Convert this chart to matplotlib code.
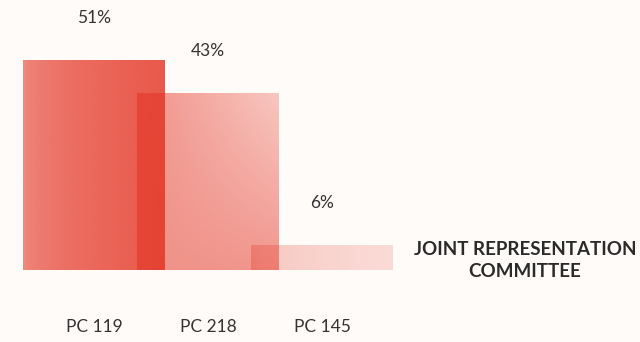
import numpy as np
import matplotlib.pyplot as plt
from matplotlib.colors import to_rgb

categories = ['PC 119', 'PC 218', 'PC 145']
values = [51, 43, 6]
value_labels = ['51%', '43%', '6%']
side_label = 'JOINT REPRESENTATION\nCOMMITTEE'

plt.rcParams['font.family'] = ['Lato', 'DejaVu Sans']

fig = plt.figure(figsize=(6.4, 3.42), dpi=100)
fig.patch.set_facecolor('#fffbf9')
ax = fig.add_axes([0, 0, 1, 1])
ax.set_facecolor('none')
ax.axis('off')

x = np.arange(len(categories))
bars = ax.bar(x, values, width=1.245, color='none', linewidth=0)

# same red for all bars, alpha ramps give the gradient and darker overlaps
base = np.array(to_rgb('#e3301f'))
ramps = [(0.55, 0.80, 0.0), (0.53, 0.50, 0.24), (0.30, 0.16, 0.0)]

u, v = np.meshgrid(np.linspace(0, 1, 80), np.linspace(0, 1, 80))
for bar, (a_left, a_right, fade) in zip(bars, ramps):
    alpha = a_left + (a_right - a_left) * np.sqrt(u) - fade * u * (1 - v)
    img = np.zeros((80, 80, 4))
    img[..., :3] = base
    img[..., 3] = np.clip(alpha, 0, 1)
    bx0, by0 = bar.get_x(), bar.get_y()
    im = ax.imshow(img, extent=(bx0, bx0 + bar.get_width(), by0, by0 + bar.get_height()),
                   origin='upper', aspect='auto', interpolation='bilinear')
    im.set_clip_path(bar)

for bar, lbl in zip(bars, value_labels):
    ax.annotate(lbl, (bar.get_x() + bar.get_width() / 2, bar.get_height()),
                xytext=(0, 30), textcoords='offset points',
                ha='center', va='center', fontsize=12.5, color='#333333')

for xi, cat in zip(x, categories):
    ax.text(xi, -14.0, cat, ha='center', va='center', fontsize=12.5, color='#333333')

ax.text(3.78, 2.2, side_label, ha='center', va='center', fontsize=13.5,
        fontweight='bold', color='#2a2a2a', linespacing=1.4)

ax.set_xlim(-0.825, 4.79)
ax.set_ylim(-17.6, 65.6)

fig.savefig('out.png', dpi=100, facecolor=fig.get_facecolor())
